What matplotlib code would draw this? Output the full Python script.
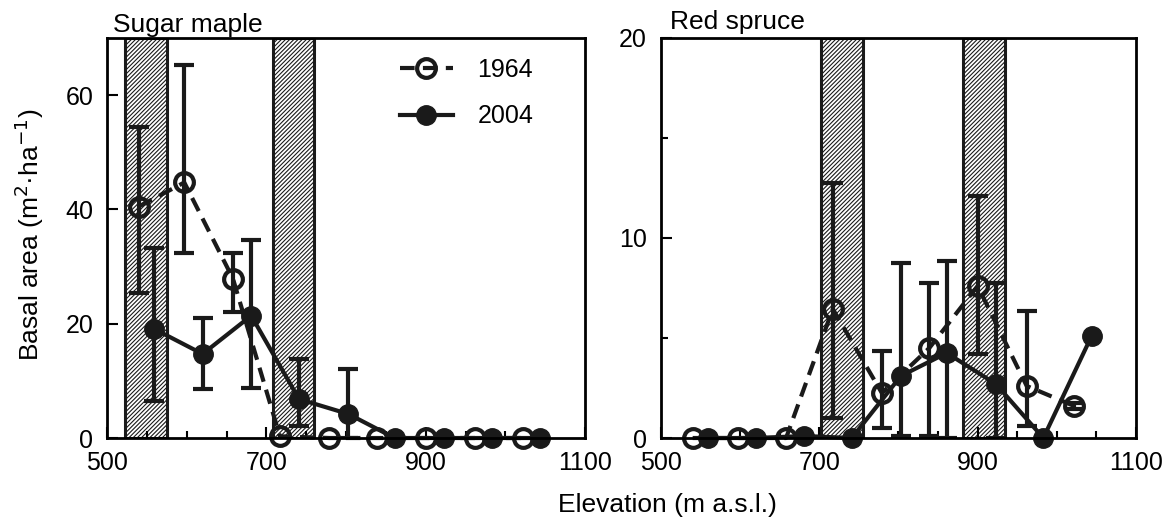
import matplotlib
matplotlib.use('Agg')
import matplotlib.pyplot as plt
from matplotlib.ticker import MultipleLocator
import numpy as np

plt.rcParams['font.family'] = ['Liberation Sans', 'DejaVu Sans']
plt.rcParams['hatch.linewidth'] = 0.8
plt.rcParams['hatch.color'] = '#444444'

# elevation of plots (m a.s.l.)
elev_1964 = [540, 597, 658, 717, 779, 839, 900, 962, 1022]
elev_2004 = [559, 620, 681, 741, 803, 861, 923, 983, 1044]

# sugar maple basal area (m2/ha)
maple_1964 = [40.5, 44.7, 27.9, 0.3, 0, 0, 0, 0, 0]
maple_1964_hi = [54.4, 65.3, 32.3, None, None, None, None, None, None]
maple_1964_lo = [25.4, 32.3, 22.0, None, None, None, None, None, None]
maple_2004 = [19.1, 14.7, 21.4, 6.8, 4.2, 0, 0, 0, 0]
maple_2004_hi = [33.2, 21.0, 34.6, 13.9, 12.1, None, None, None, None]
maple_2004_lo = [6.5, 8.6, 8.8, 2.1, 0, None, None, None, None]

# red spruce basal area (m2/ha)
spruce_1964 = [0, 0, 0, 6.45, 2.25, 4.5, 7.6, 2.6, 1.6]
spruce_1964_hi = [None, None, None, 12.75, 4.35, 7.75, 12.1, 6.35, 1.75]
spruce_1964_lo = [None, None, None, 1.0, 0.5, 0.1, 4.2, 0.6, 1.45]
spruce_2004 = [0, 0, 0.1, 0, 3.1, 4.25, 2.7, 0, 5.1]
spruce_2004_hi = [None, None, None, None, 8.75, 8.85, 7.75, None, None]
spruce_2004_lo = [None, None, None, None, 0.1, 0, 0, None, None]

# hatched elevation bands
maple_bands = [(523, 575), (708, 760)]
spruce_bands = [(702, 755), (881, 934)]

FS = 19
TS = 18


def err(vals, hi, lo):
    x, y, e_lo, e_hi = [], [], [], []
    for i in range(len(vals)):
        if hi[i] is None:
            continue
        y.append(vals[i])
        e_lo.append(vals[i] - lo[i])
        e_hi.append(hi[i] - vals[i])
        x.append(i)
    return x, y, [e_lo, e_hi]


def panel(ax, ymax, bands, v64, hi64, lo64, v04, hi04, lo04):
    for b0, b1 in bands:
        ax.bar((b0 + b1) / 2, ymax, width=b1 - b0, bottom=0, color='white',
               edgecolor='#1a1a1a', hatch='////////', linewidth=2.2, zorder=1)
    idx, y, e = err(v64, hi64, lo64)
    ax.errorbar([elev_1964[i] for i in idx], y, yerr=e, fmt='none',
                ecolor='#1a1a1a', elinewidth=3, capsize=7, capthick=3, zorder=3)
    idx, y, e = err(v04, hi04, lo04)
    ax.errorbar([elev_2004[i] for i in idx], y, yerr=e, fmt='none',
                ecolor='#1a1a1a', elinewidth=3, capsize=7, capthick=3, zorder=3)
    l1, = ax.plot(elev_1964, v64, '--o', color='#1a1a1a', lw=3, ms=13.5,
                  mfc='none', mew=3, dashes=(3.5, 2), clip_on=False, zorder=4)
    l2, = ax.plot(elev_2004, v04, '-o', color='#1a1a1a', lw=3, ms=14,
                  clip_on=False, zorder=5)
    ax.set_xlim(500, 1100)
    ax.set_ylim(0, ymax)
    ax.set_xticks([500, 700, 900, 1100])
    ax.xaxis.set_minor_locator(MultipleLocator(50))
    ax.tick_params(direction='in', which='both', labelsize=TS, width=1.5)
    ax.tick_params(which='major', length=8)
    ax.tick_params(which='minor', length=5)
    ax.tick_params(axis='x', pad=9)
    ax.tick_params(axis='y', pad=10)
    for s in ax.spines.values():
        s.set_linewidth(2)
        s.set_zorder(6)
    return l1, l2


fig = plt.figure(figsize=(11.67, 5.21), dpi=100)
ax1 = fig.add_axes([0.0917, 0.1593, 0.4096, 0.768])
ax2 = fig.add_axes([0.5664, 0.1593, 0.4070, 0.768])

l1, l2 = panel(ax1, 70, maple_bands, maple_1964, maple_1964_hi, maple_1964_lo,
               maple_2004, maple_2004_hi, maple_2004_lo)
ax1.set_yticks([0, 20, 40, 60])
panel(ax2, 20, spruce_bands, spruce_1964, spruce_1964_hi, spruce_1964_lo,
      spruce_2004, spruce_2004_hi, spruce_2004_lo)
ax2.set_yticks([0, 10, 20])
ax2.yaxis.set_minor_locator(MultipleLocator(5))

ax1.legend([l1, l2], ['1964', '2004'], loc='upper left', bbox_to_anchor=(0.613, 0.95),
           frameon=False, fontsize=18, handlelength=2.1, labelspacing=0.9,
           handletextpad=1.0, borderpad=0, borderaxespad=0)

fig.text(0.097, 0.9386, 'Sugar maple', fontsize=FS, va='baseline')
fig.text(0.574, 0.944, 'Red spruce', fontsize=FS, va='baseline')
fig.text(0.025, 0.549, 'Basal area (m$^2$·ha$^{-1}$)', fontsize=FS,
         rotation=90, ha='center', va='center')
fig.text(0.478, 0.018, 'Elevation (m a.s.l.)', fontsize=FS, va='baseline')

fig.savefig('out.png', dpi=100)
